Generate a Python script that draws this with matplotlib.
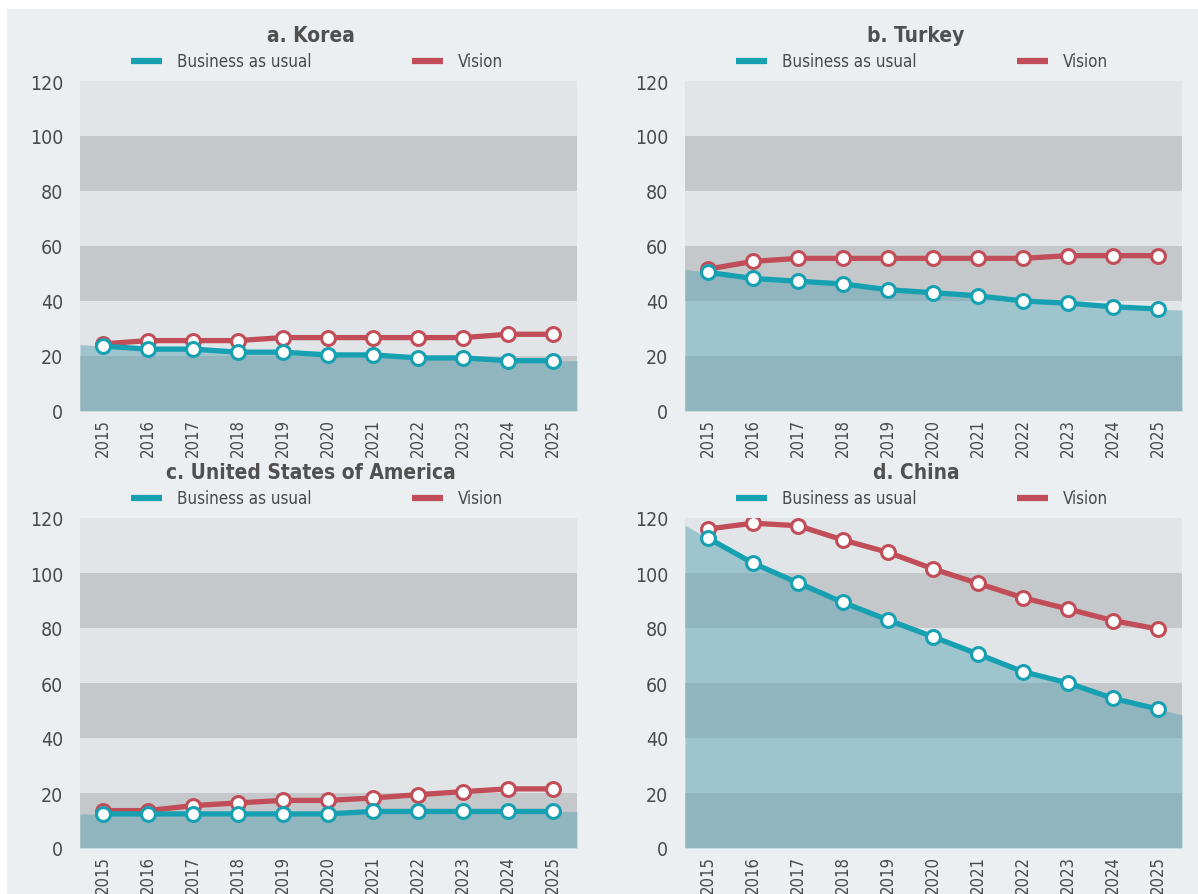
import matplotlib.pyplot as plt
from matplotlib.lines import Line2D
from matplotlib.patches import Rectangle

plt.rcParams['font.family'] = ['DejaVu Sans']
plt.rcParams['font.stretch'] = 'condensed'

years = list(range(2015, 2026))

korea_bau = [23.6, 22.5, 22.5, 21.4, 21.4, 20.4, 20.4, 19.3, 19.3, 18.3, 18.3]
korea_vision = [24.4, 25.6, 25.6, 25.6, 26.7, 26.7, 26.7, 26.7, 26.7, 27.9, 27.9]

turkey_bau = [50.4, 48.2, 47.2, 46.2, 44.1, 43.0, 41.9, 40.0, 39.2, 37.9, 37.1]
turkey_vision = [51.6, 54.4, 55.5, 55.5, 55.5, 55.5, 55.5, 55.5, 56.5, 56.5, 56.5]

usa_bau = [12.4, 12.4, 12.4, 12.4, 12.4, 12.4, 13.3, 13.3, 13.3, 13.3, 13.3]
usa_vision = [13.6, 13.6, 15.4, 16.4, 17.3, 17.3, 18.2, 19.4, 20.5, 21.5, 21.5]

china_bau = [112.7, 103.6, 96.4, 89.3, 82.9, 76.8, 70.5, 64.1, 60.0, 54.4, 50.5]
china_vision = [116.0, 118.1, 117.2, 112.0, 107.5, 101.5, 96.2, 91.0, 86.9, 82.7, 79.6]

titles = ['a. Korea', 'b. Turkey', 'c. United States of America', 'd. China']
series = [(korea_bau, korea_vision), (turkey_bau, turkey_vision),
          (usa_bau, usa_vision), (china_bau, china_vision)]

W, H = 1198, 895
TEAL = '#16a0b1'
RED = '#c14d58'
LIGHT = '#e2e5e7'
DARK = '#c5c8ca'
TEXT = '#4a4a4a'

fig = plt.figure(figsize=(W / 100, H / 100), dpi=100)
fig.patch.set_facecolor('white')
fig.add_artist(Rectangle((7 / W, 0), 1, (H - 10) / H, transform=fig.transFigure,
                         facecolor='#eceff1', edgecolor='none', zorder=-10))

# (left, top) of each plot area in pixels
boxes = [(80, 82), (685, 82), (80, 519), (685, 519)]
aw, ah = 497, 330
x0, x1 = 2014.49, 2025.53


def extend(vals):
    # carry the first and last segments out to the plot edges
    first = vals[0] - (vals[1] - vals[0]) * (years[0] - x0)
    last = vals[-1] + (vals[-1] - vals[-2]) * (x1 - years[-1])
    return [x0] + years + [x1], [first] + vals + [last]


def legend(left, top):
    y = 1 - (top - 20) / H
    for dx, color, label in [(51, TEAL, 'Business as usual'), (332, RED, 'Vision')]:
        fig.add_artist(Line2D([(left + dx) / W, (left + dx + 31) / W], [y, y],
                              transform=fig.transFigure, color=color, lw=4.5,
                              solid_capstyle='butt'))
        fig.text((left + dx + 46) / W, y, label, ha='left', va='center',
                 fontsize=12.2, color=TEXT)


for (left, top), title, (bau, vision) in zip(boxes, titles, series):
    ax = fig.add_axes([left / W, 1 - (top + ah) / H, aw / W, ah / H])
    ax.set_facecolor('none')
    for i, lo in enumerate(range(0, 120, 20)):
        ax.axhspan(lo, lo + 20, color=DARK if i % 2 == 0 else LIGHT, lw=0, zorder=0)

    fx, fy = extend(bau)
    ax.fill_between(fx, 0, fy, color='#5ca4b4', alpha=0.5, lw=0, zorder=1)

    ax.plot(years, vision, color=RED, lw=3.8, marker='o', ms=10, mfc='white',
            mec=RED, mew=2.2, zorder=3)
    ax.plot(years, bau, color=TEAL, lw=3.8, marker='o', ms=10, mfc='white',
            mec=TEAL, mew=2.2, zorder=4)

    ax.set_xlim(x0, x1)
    ax.set_ylim(0, 120)
    ax.set_yticks(range(0, 121, 20))
    ax.set_xticks(years)
    ax.set_xticklabels([str(y) for y in years], rotation=90)
    ax.tick_params(axis='y', length=0, labelsize=14, colors=TEXT, pad=12)
    ax.tick_params(axis='x', length=0, labelsize=12, colors=TEXT, pad=5)
    for s in ax.spines.values():
        s.set_visible(False)

    fig.text((left - 35 + left + aw) / 2 / W, 1 - (top - 46) / H, title,
             ha='center', va='center', fontsize=15, fontweight='bold', color='#505050')
    legend(left, top)

fig.savefig('out.png', dpi=100)
